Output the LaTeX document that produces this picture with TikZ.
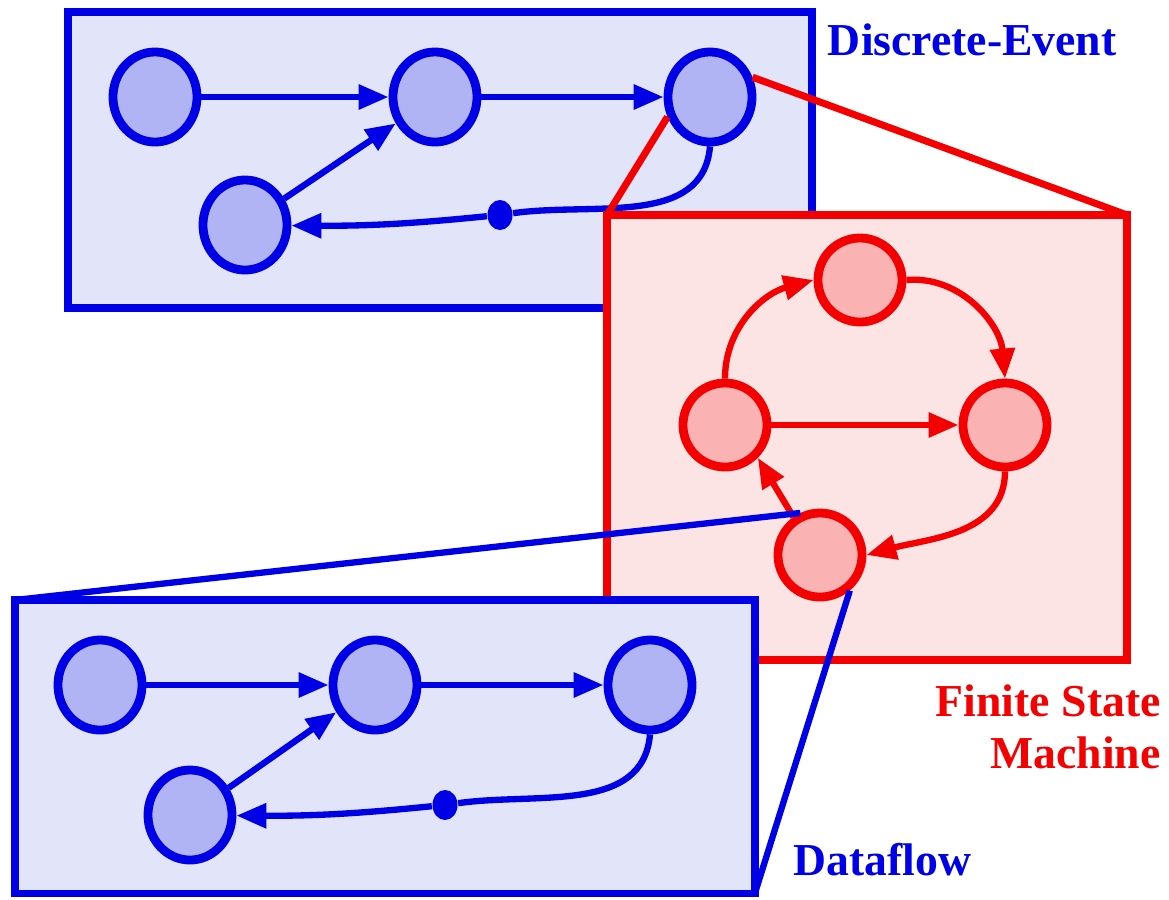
\documentclass[tikz,border=0pt]{standalone}
\usepackage{fontspec}
\setmainfont{Liberation Serif}
\usetikzlibrary{arrows.meta,shapes.geometric}
\definecolor{mblue}{RGB}{0,0,230}
\definecolor{mbluebg}{RGB}{226,228,250}
\definecolor{mbluefill}{RGB}{176,180,245}
\definecolor{mred}{RGB}{245,0,0}
\definecolor{mredbg}{RGB}{252,228,228}
\definecolor{mredfill}{RGB}{250,178,178}

\begin{document}
\begin{tikzpicture}[x=0.01cm,y=-0.01cm,
  every node/.style={font=\bfseries\fontsize{13}{15}\selectfont},
  bnode/.style={ellipse,draw=mblue,fill=mbluefill,line width=2.5pt,minimum width=0.84cm,minimum height=0.9cm,inner sep=0pt},
  rnode/.style={circle,draw=mred,fill=mredfill,line width=2.5pt,minimum size=0.84cm,inner sep=0pt},
  bdot/.style={ellipse,fill=mblue,minimum width=0.25cm,minimum height=0.3cm,inner sep=0pt},
  bbox/.style={draw=mblue,fill=mbluebg,line width=2pt},
  rbox/.style={draw=mred,fill=mredbg,line width=2pt},
  tip/.style={-{Triangle[length=0.3cm,width=0.24cm]}},
  bedge/.style={draw=mblue,line width=1.8pt},
  redge/.style={draw=mred,line width=1.8pt}]
\useasboundingbox (0,0) rectangle (1169,899);
% box corners
\coordinate (deNW) at (68,12);
\coordinate (deSE) at (812,308);
\coordinate (fsmNW) at (607,215);
\coordinate (fsmSE) at (1127,660);
\coordinate (dfNW) at (15,600);
\coordinate (dfSE) at (755,893);

% discrete-event
\draw[bbox] (deNW) rectangle (deSE);
\node[bnode] (t1) at (155,97) {};
\node[bnode] (t2) at (435,97) {};
\node[bnode] (t3) at (710,97) {};
\node[bnode] (t4) at (245,225) {};
\node[bdot] (tdot) at (500,215) {};
\draw[bedge,tip] (t1) -- (t2);
\draw[bedge,tip] (t2) -- (t3);
\draw[bedge,tip] (t4) -- (t2);
\draw[bedge] (t3.south) to[out=-95,in=8] (tdot);
\draw[bedge,tip] (tdot) to[bend left=3] (t4);
\node[text=mblue,anchor=east] (lde) at (1129,40) {Discrete-Event};

% zoom into fsm
\draw[redge,line width=2pt] (t3.25) -- (fsmSE |- fsmNW);
\draw[redge,line width=2pt] (t3.205) -- (fsmNW);

% fsm
\draw[rbox] (fsmNW) rectangle (fsmSE);
\node[rnode] (ft) at (860,280) {};
\node[rnode] (fl) at (725,425) {};
\node[rnode] (fr) at (1005,425) {};
\node[rnode] (fb) at (820,555) {};
\draw[redge,tip] (fl.north) to[out=90,in=195] (ft.west);
\draw[redge,tip] (ft.east) to[out=5,in=95] (fr.north);
\draw[redge,tip] (fl) -- (fr);
\draw[redge,tip] (fr.south) to[out=-90,in=15] (fb.east);
\draw[redge,tip] (fb.125) -- (fl.-45);
\node[text=mred,anchor=north east,align=right] (lfsm) at (1173,672) {Finite State\\Machine};

% zoom into dataflow
\draw[bedge] (fb.115) -- (dfNW);
\draw[bedge] (fb.-50) -- (dfSE);

% dataflow
\draw[bbox] (dfNW) rectangle (dfSE);
\node[bnode] (d1) at (100,685) {};
\node[bnode] (d2) at (375,685) {};
\node[bnode] (d3) at (650,685) {};
\node[bnode] (d4) at (190,815) {};
\node[bdot] (ddot) at (445,805) {};
\draw[bedge,tip] (d1) -- (d2);
\draw[bedge,tip] (d2) -- (d3);
\draw[bedge,tip] (d4) -- (d2);
\draw[bedge] (d3.south) to[out=-95,in=8] (ddot);
\draw[bedge,tip] (ddot) to[bend left=3] (d4);
\node[text=mblue,anchor=west] (ldf) at (781,860) {Dataflow};
\end{tikzpicture}
\end{document}
